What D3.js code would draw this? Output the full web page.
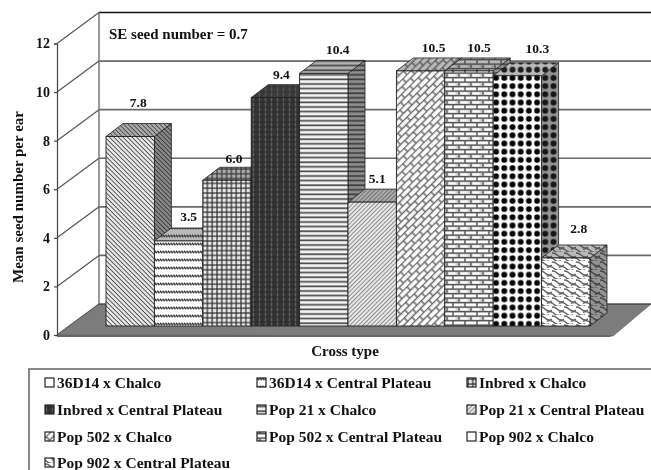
<!DOCTYPE html>
<html><head><meta charset="utf-8">
<script src="https://cdn.jsdelivr.net/npm/d3@7"></script>
<style>
html,body{margin:0;padding:0;background:#fff;overflow:hidden}
svg{display:block;filter:blur(0.55px)}
text{font-family:"Liberation Serif",serif;font-weight:bold;fill:#111}
</style></head><body>
<script>
const categories = ["36D14 x Chalco","36D14 x Central Plateau","Inbred x Chalco","Inbred x Central Plateau","Pop 21 x Chalco","Pop 21 x Central Plateau","Pop 502 x Chalco","Pop 502 x Central Plateau","Pop 902 x Chalco","Pop 902 x Central Plateau"];
const values = [7.8,3.5,6.0,9.4,10.4,5.1,10.5,10.5,10.3,2.8];
const valueLabels = ["7.8","3.5","6.0","9.4","10.4","5.1","10.5","10.5","10.3","2.8"];
const yTicks = [0,2,4,6,8,10,12];
const yTitle = "Mean seed number per ear";
const xTitle = "Cross type";
const note = "SE seed number = 0.7";

// layout
const W=651,H=470;
const depthX=42,depthY=31, barDX=17,barDY=13, barLift=9;
const labelNudge=[[8,-11],[10,-1],[7,2],[6,0],[14,0],[5,0],[13,0],[10,0],[20,-4],[13,-6]];
const plainSwatch=[0,8];

const y=d3.scaleLinear().domain([0,12]).range([335,43.5]);
const x=d3.scaleBand().domain(categories).range([106,590]).padding(0);
const svg=d3.select("body").append("svg").attr("width",W).attr("height",H).attr("viewBox",`0 0 ${W} ${H}`);
const defs=svg.append("defs");

function pat(id,w,h,bg,draw,tf){
  const p=defs.append("pattern").attr("id",id).attr("patternUnits","userSpaceOnUse").attr("width",w).attr("height",h);
  if(tf)p.attr("patternTransform",tf);
  p.append("rect").attr("width",w).attr("height",h).attr("fill",bg);
  draw(p);
}
const ln=(p,d,c,sw)=>p.append("path").attr("d",d).attr("fill","none").attr("stroke",c).attr("stroke-width",sw);
pat("p0",3.2,3.2,"#e8e8e8",p=>ln(p,"M0 0H3.2","#444",1.7),"rotate(45)");
pat("p1",8,8,"#fff",p=>{ln(p,"M0 4H8","#c4c4c4",2);ln(p,"M0 2.8L2 5.2M2.7 2.8L4.7 5.2M5.4 2.8L7.4 5.2","#444",1.5);});
pat("p2",4.8,4.8,"#e8e8e8",p=>{ln(p,"M0 1H4.8","#2a2a2a",1.2);ln(p,"M1 0V4.8","#2a2a2a",1.2);});
pat("p3",6,5,"#333",p=>{ln(p,"M1.5 0V5","#5f5f5f",1.4);ln(p,"M0 2H6","#2a2a2a",1);});
pat("p4",4.6,4.6,"#f4f4f4",p=>ln(p,"M0 1.2H4.6","#4a4a4a",1.7));
pat("p5",3,3,"#e8e8e8",p=>ln(p,"M0 0H3","#666",1.4),"rotate(-45)");
pat("p6",12,10,"#fff",p=>{ln(p,"M0 0.5H12M0 5.5H12","#6a6a6a",1.7);ln(p,"M1 0.5V5.5M7 5.5V10.5M7 0V.5","#6a6a6a",1.5);},"rotate(-45)");
pat("p7",12,9,"#cfcfcf",p=>{ln(p,"M0 1.2H12M0 5.7H12","#555",1.3);ln(p,"M3 1.2V5.7M9 5.7V10M9 0V1.2","#555",1.3);ln(p,"M4.5 3.4H11.5","#fff",2);ln(p,"M0 7.9H8","#fff",2);ln(p,"M10 7.9H12","#fff",2);});
pat("p8",8.2,8.2,"#fff",p=>p.append("circle").attr("cx",4.1).attr("cy",4.1).attr("r",2.9).attr("fill","#050505"));
pat("p9",12,9,"#fff",p=>{ln(p,"M-2 2C1 0 3 1 5 3S9 6 12 4","#666",1.5);ln(p,"M-5 6.5C-2 4.5 0 5.5 2 7.5S6 10.5 9 8.5","#666",1.5);ln(p,"M7 6.5C10 4.5 12 5.5 14 7.5","#666",1.5);});

const g=svg.append("g");
// back wall gridlines and depth lines
const wallLeft=57+depthX, wallRight=651;
g.selectAll("line.grid").data(yTicks.filter(t=>t>0&&t<12)).join("line").attr("class","grid")
  .attr("x1",wallLeft).attr("x2",wallRight).attr("y1",d=>y(d)-depthY).attr("y2",d=>y(d)-depthY)
  .attr("stroke","#6a6a6a").attr("stroke-width",1.7);
g.append("line").attr("x1",wallLeft).attr("x2",wallRight).attr("y1",y(12)-depthY).attr("y2",y(12)-depthY).attr("stroke","#111").attr("stroke-width",1.3);
g.append("line").attr("x1",wallLeft).attr("x2",wallLeft).attr("y1",y(12)-depthY).attr("y2",y(0)-depthY).attr("stroke","#777").attr("stroke-width",1.5);
g.selectAll("line.side").data(yTicks).join("line").attr("class","side")
  .attr("x1",57).attr("x2",wallLeft).attr("y1",d=>y(d)).attr("y2",d=>y(d)-depthY)
  .attr("stroke","#555").attr("stroke-width",1.2);
// floor
g.append("path").attr("d",`M57 ${y(0)}L${wallLeft} ${y(0)-depthY}H651L613 ${y(0)+1}Z`).attr("fill","#7c7c7c").attr("stroke","#555").attr("stroke-width",.6);
g.append("line").attr("x1",wallLeft).attr("x2",651).attr("y1",y(0)-depthY).attr("y2",y(0)-depthY).attr("stroke","#333").attr("stroke-width",1);
g.append("path").attr("d",`M57 ${y(0)}L613 ${y(0)}L610 ${y(0)+2}H57Z`).attr("fill","#666");
// axis
const axis=d3.axisLeft(y).tickValues(yTicks).tickSize(3).tickFormat(d3.format("d"));
const ax=svg.append("g").attr("transform","translate(57,0)").call(axis);
ax.selectAll("path,line").attr("stroke","#444").attr("stroke-width",1.2);
ax.selectAll("text").attr("font-size",14).attr("x",-7).attr("fill","#111").style("font-family",'"Liberation Serif",serif').style("font-weight","bold");

// bars
const bars=svg.append("g").selectAll("g").data(categories).join("g");
const by=v=>y(v)-barLift, b0=y(0)-barLift;
bars.each(function(c,i){
  const s=d3.select(this),x0=x(c),x1=x0+x.bandwidth(),t=by(values[i]);
  const top=`M${x0} ${t}L${x0+barDX} ${t-barDY}H${x1+barDX}L${x1} ${t}Z`;
  const side=`M${x1} ${t}L${x1+barDX} ${t-barDY}V${b0-barDY}L${x1} ${b0}Z`;
  s.append("path").attr("d",side).attr("fill",`url(#p${i})`);
  s.append("path").attr("d",side).attr("fill","rgba(40,40,40,.5)").attr("stroke","#222").attr("stroke-width",.8);
  s.append("path").attr("d",top).attr("fill",`url(#p${i})`);
  s.append("path").attr("d",top).attr("fill","rgba(70,70,70,.38)").attr("stroke","#222").attr("stroke-width",.8);
  s.append("rect").attr("x",x0).attr("y",t).attr("width",x.bandwidth()).attr("height",b0-t)
    .attr("fill",`url(#p${i})`).attr("stroke","#222").attr("stroke-width",.9);
});
// value labels
svg.append("g").selectAll("text").data(values).join("text")
  .attr("x",(d,i)=>x(categories[i])+x.bandwidth()/2+labelNudge[i][0])
  .attr("y",(d,i)=>by(d)-barDY-6+labelNudge[i][1])
  .attr("text-anchor","middle").attr("font-size",13.5).text((d,i)=>valueLabels[i]);

svg.append("text").attr("x",109).attr("y",39).attr("font-size",15).text(note);
svg.append("text").attr("transform","translate(23,197) rotate(-90)").attr("text-anchor","middle").attr("font-size",15).text(yTitle);
svg.append("text").attr("x",345).attr("y",356).attr("text-anchor","middle").attr("font-size",15).text(xTitle);

// legend
const legendCols=[45,257,467], legendRows=[383,410,437,463];
const lg=svg.append("g");
lg.append("path").attr("d",`M29 ${H+5}V369H${W+5}`).attr("fill","none").attr("stroke","#888").attr("stroke-width",2);
const items=lg.selectAll("g").data(categories).join("g")
  .attr("transform",(d,i)=>`translate(${legendCols[i%3]},${legendRows[Math.floor(i/3)]})`);
items.append("rect").attr("x",0).attr("y",-5).attr("width",9).attr("height",9)
  .attr("fill",(d,i)=>plainSwatch.includes(i)?"#fff":`url(#p${i})`).attr("stroke","#222").attr("stroke-width",1.2);
items.append("text").attr("x",12).attr("y",5).attr("font-size",15.5).text(d=>d);
</script>
</body></html>
